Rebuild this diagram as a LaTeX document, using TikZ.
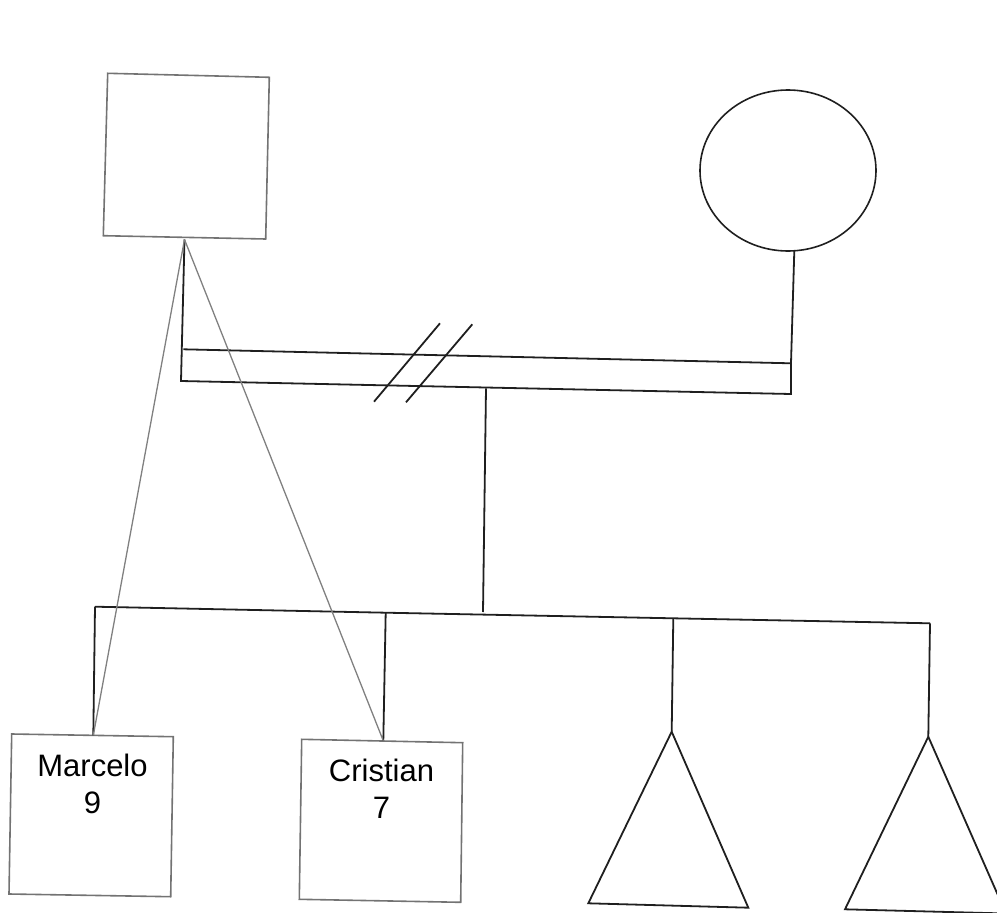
\documentclass[tikz,border=0pt]{standalone}
\usepackage{fontspec}
\setmainfont{Liberation Sans}
\usetikzlibrary{shapes.geometric}
\begin{document}
\begin{tikzpicture}[x=1pt,y=-1pt,
  blk/.style={draw=black!88,line width=1.8pt,line join=miter},
  gbox/.style={draw=black!55,line width=1.6pt},
  gline/.style={draw=black!50,line width=1.3pt},
  lbl/.style={font=\fontsize{31}{37}\selectfont,align=center,inner sep=0pt}]
\useasboundingbox (0,0) rectangle (997,913);
\clip (0,0) rectangle (997,913);
% father square
\coordinate (f1) at (107.7,73.3);
\coordinate (f2) at (269.3,77.3);
\coordinate (f3) at (265.7,239);
\coordinate (f4) at (103.3,235.7);
\draw[gbox] (f1) -- (f2) -- (f3) -- (f4) -- cycle;
\coordinate (fa) at (184.5,239.5);
% mother circle
\node[draw=black!88,line width=1.6pt,ellipse,minimum width=176pt,minimum height=161pt,inner sep=0pt] (mo) at (788,170.5) {};
\coordinate (mb) at (794.3,251);
% marriage bars
\coordinate (u1) at (183.3,349.3);
\coordinate (u2) at (791,363.3);
\coordinate (l1) at (181,381);
\coordinate (l2) at (791,394);
\draw[blk] (fa) -- (l1) -- (l2) -- (u2) -- (mb);
\draw[blk] (u1) -- (u2);
% divorce slashes
\coordinate (s1a) at (374,401.7); \coordinate (s1b) at (440,323.3);
\coordinate (s2a) at (406,402.3); \coordinate (s2b) at (472.3,324.3);
\draw[blk] (s1a) -- (s1b);
\draw[blk] (s2a) -- (s2b);
% drop to sibship
\coordinate (d1) at (486,388.3);
\coordinate (d2) at (483,612);
\draw[blk] (d1) -- (d2);
% sibship line
\coordinate (sb1) at (95,606.7);
\coordinate (sb2) at (385.7,612.7);
\coordinate (sb3) at (673.3,618.3);
\coordinate (sb4) at (930,623.3);
\draw[blk] (sb1) -- (sb2) -- (sb3) -- (sb4);
% child boxes
\coordinate (m1) at (11.7,734);
\coordinate (m2) at (173.3,736.7);
\coordinate (m3) at (170.7,896.7);
\coordinate (m4) at (9,894);
\draw[gbox] (m1) -- (m2) -- (m3) -- (m4) -- cycle;
\coordinate (mt) at (93.3,735.3);
\node[lbl] (marcelo) at (92.5,783.5) {Marcelo\\9};
\coordinate (c1) at (301.7,739.3);
\coordinate (c2) at (462.7,742.7);
\coordinate (c3) at (460.7,902.3);
\coordinate (c4) at (299.3,899.3);
\draw[gbox] (c1) -- (c2) -- (c3) -- (c4) -- cycle;
\coordinate (ct) at (383.3,740.8);
\node[lbl] (cristian) at (381.5,788.5) {Cristian\\7};
% triangles
\coordinate (t1a) at (671.7,731.7);
\coordinate (t1b) at (748.3,907.7);
\coordinate (t1c) at (588.3,903.3);
\draw[blk] (t1a) -- (t1b) -- (t1c) -- cycle;
\coordinate (t2a) at (928.3,736.7);
\coordinate (t2b) at (1006,913.5);
\coordinate (t2c) at (845,909.3);
\draw[blk] (t2a) -- (t2b) -- (t2c) -- cycle;
% child drops
\draw[blk] (sb1) -- (mt);
\draw[blk] (sb2) -- (ct);
\draw[blk] (sb3) -- (t1a);
\draw[blk] (sb4) -- (t2a);
% gray lines from father
\draw[gline] (fa) -- (mt);
\draw[gline] (fa) -- (ct);
\end{tikzpicture}
\end{document}
